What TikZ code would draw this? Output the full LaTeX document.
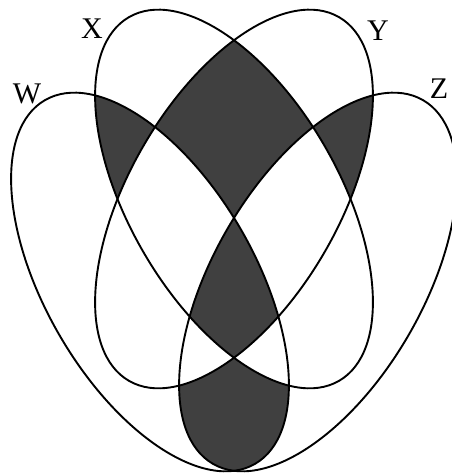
\documentclass[tikz,border=0pt]{standalone}
\usepackage{fontspec}
\setmainfont{Liberation Serif}
\definecolor{venndark}{HTML}{404040}
\newcommand\ellW{[rotate around={120:(150,191)}] (150,191) ellipse [x radius=210pt, y radius=105pt]}
\newcommand\ellX{[rotate around={120:(234,274)}] (234,274) ellipse [x radius=210pt, y radius=105pt]}
\newcommand\ellY{[rotate around={60:(234,274)}] (234,274) ellipse [x radius=210pt, y radius=105pt]}
\newcommand\ellZ{[rotate around={60:(318,191)}] (318,191) ellipse [x radius=210pt, y radius=105pt]}
\begin{document}
\begin{tikzpicture}[x=1pt,y=1pt,
  darkfill/.style={fill=venndark},
  outline/.style={draw=black, line width=1.9pt},
  lab/.style={font=\fontsize{30}{30}\selectfont, inner sep=0pt}]
\useasboundingbox (0,0) rectangle (451,473);
\fill[white] (0,0) rectangle (451,473);
% X and Y only
\begin{scope}
  \clip \ellX; \clip \ellY;
  \path[darkfill] (0,0) rectangle (451,473);
  \fill[white] \ellW; \fill[white] \ellZ;
\end{scope}
% W and X only
\begin{scope}
  \clip \ellW; \clip \ellX;
  \path[darkfill] (0,0) rectangle (451,473);
  \fill[white] \ellY; \fill[white] \ellZ;
\end{scope}
% Y and Z only
\begin{scope}
  \clip \ellY; \clip \ellZ;
  \path[darkfill] (0,0) rectangle (451,473);
  \fill[white] \ellW; \fill[white] \ellX;
\end{scope}
% W and Z only
\begin{scope}
  \clip \ellW; \clip \ellZ;
  \path[darkfill] (0,0) rectangle (451,473);
  \fill[white] \ellX; \fill[white] \ellY;
\end{scope}
% all four
\begin{scope}
  \clip \ellW; \clip \ellX; \clip \ellY; \clip \ellZ;
  \path[darkfill] (0,0) rectangle (451,473);
\end{scope}
\draw[outline] \ellW;
\draw[outline] \ellX;
\draw[outline] \ellY;
\draw[outline] \ellZ;
\node[lab] (labX) at (92,444) {X};
\node[lab] (labY) at (378,442) {Y};
\node[lab] (labW) at (27,379) {W};
\node[lab] (labZ) at (439,384) {Z};
\end{tikzpicture}
\end{document}
